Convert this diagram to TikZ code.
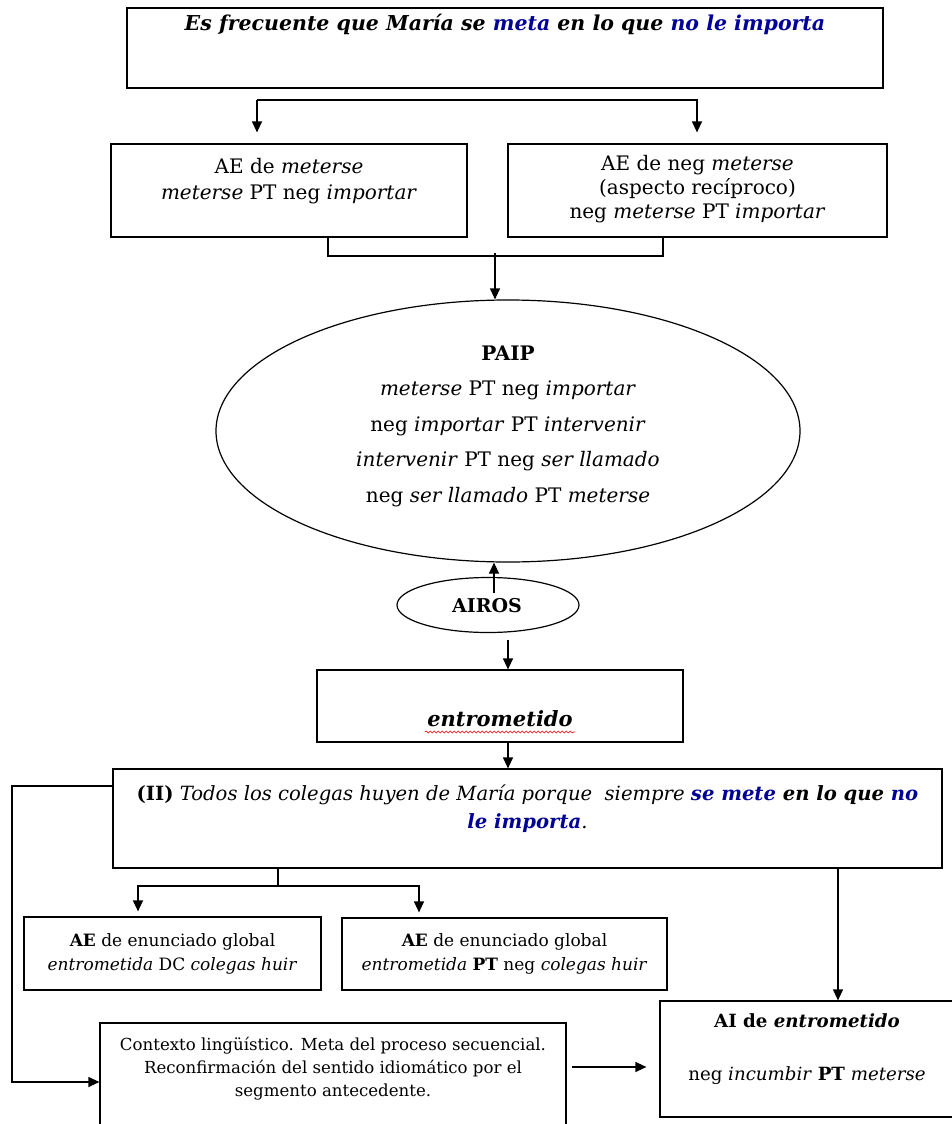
\documentclass[tikz,border=0pt]{standalone}
\usepackage{fontspec}
\setmainfont{DejaVu Serif}
\usetikzlibrary{arrows.meta,shapes.geometric,decorations.pathmorphing}
\definecolor{azulosc}{RGB}{0,0,150}
\newcommand{\az}[1]{\textcolor{azulosc}{#1}}

\begin{document}
\begin{tikzpicture}[x=1pt,y=-1pt,
    caja/.style={draw,line width=1.2pt,inner sep=0pt},
    txt/.style={inner sep=0pt,align=center},
    flecha/.style={line width=1.2pt,-{Triangle[length=11pt,width=10pt]}},
    linea/.style={line width=1.2pt}]

  \useasboundingbox (0,0) rectangle (952,1124);

  % cajas
  \node[caja,minimum width=756pt,minimum height=80pt] (ejemplo) at (505,48) {};
  \node[caja,minimum width=356pt,minimum height=93pt] (ae1) at (289,190.5) {};
  \node[caja,minimum width=379pt,minimum height=93pt] (ae2) at (697.5,190.5) {};
  \node[caja,ellipse,minimum width=584pt,minimum height=262pt] (paip) at (508,431) {};
  \node[caja,ellipse,minimum width=182pt,minimum height=55pt] (airos) at (488,605) {};
  \node[caja,minimum width=366pt,minimum height=72pt] (entro) at (500,706) {};
  \node[caja,minimum width=829pt,minimum height=99pt] (dos) at (527.5,818.5) {};
  \node[caja,minimum width=297pt,minimum height=73pt] (glob1) at (172.5,953.5) {};
  \node[caja,minimum width=325pt,minimum height=72pt] (glob2) at (504.5,954) {};
  \node[caja,minimum width=466pt,minimum height=107pt] (ctx) at (333,1076.5) {};
  \node[caja,minimum width=294pt,minimum height=116pt] (ai) at (807,1059) {};

  % textos
  \node[txt,anchor=base,font=\fontsize{20.5}{24}\selectfont] (ejemplo-t) at (505,31)
    {\textbf{\textit{Es frecuente que María se \az{meta} en lo que \az{no le importa}}}};
  \node[txt,font=\fontsize{20}{26}\selectfont] (ae1-t) at (289,181)
    {AE de \textit{meterse}\\ \textit{meterse} PT neg \textit{importar}};
  \node[txt,font=\fontsize{20}{24}\selectfont] (ae2-t) at (697.5,189.5)
    {AE de neg \textit{meterse}\\ (aspecto recíproco)\\ neg \textit{meterse} PT \textit{importar}};
  \node[txt,font=\fontsize{20}{35.5}\selectfont] (paip-t) at (508,426)
    {\textbf{PAIP}\\ \textit{meterse} PT neg \textit{importar}\\ neg \textit{importar} PT \textit{intervenir}\\
     \textit{intervenir} PT neg \textit{ser llamado}\\ neg \textit{ser llamado} PT \textit{meterse}};
  \node[txt,anchor=base,font=\fontsize{19}{24}\selectfont] (airos-t) at (487,612) {\textbf{AIROS}};
  \node[txt,anchor=base,font=\fontsize{21}{24}\selectfont] (entro-t) at (500,726) {\textbf{\textit{entrometido}}};
  \draw[red,line width=0.6pt,decorate,decoration={snake,amplitude=1pt,segment length=4pt}] (425,732) -- (575,732);
  \node[txt,font=\fontsize{19.6}{28}\selectfont] (dos-t) at (527.5,809)
    {\textbf{(II)} \textit{Todos los colegas huyen de María porque\ \ siempre} \textbf{\textit{\az{se mete} en lo que \az{no}}}\\
     \textbf{\textit{\az{le importa}}}\textit{.}};
  \node[txt,font=\fontsize{17}{24}\selectfont] (glob1-t) at (172.5,954)
    {\textbf{AE} de enunciado global\\ \textit{entrometida} DC \textit{colegas huir}};
  \node[txt,font=\fontsize{17}{24}\selectfont] (glob2-t) at (504.5,954)
    {\textbf{AE} de enunciado global\\ \textit{entrometida} \textbf{PT} neg \textit{colegas huir}};
  \node[txt,font=\fontsize{16.6}{23}\selectfont] (ctx-t) at (333,1069)
    {Contexto lingüístico. Meta del proceso secuencial.\\ Reconfirmación del sentido idiomático por el\\ segmento antecedente.};
  \node[txt,font=\fontsize{18.2}{53}\selectfont] (ai-t) at (807,1049)
    {\textbf{AI de \textit{entrometido}}\\ neg \textit{incumbir} \textbf{PT} \textit{meterse}};

  % conectores
  \coordinate (bl) at (257,100);
  \coordinate (br) at (697,100);
  \draw[flecha,shorten >=11pt] (bl) -- (bl |- ae1.north);
  \draw[flecha,shorten >=11pt] (bl) -| (br |- ae2.north);

  \coordinate (j1) at (328,256);
  \coordinate (j2) at (663,256);
  \coordinate (j3) at (495,253);
  \draw[linea] (j1 |- ae1.south) -- (j1) -- (j2) -- (j2 |- ae2.south);
  \draw[flecha] (j3) -- (j3 |- paip.north);

  \coordinate (a1) at (494,593);
  \coordinate (a2) at (508,640);
  \draw[flecha] (a1) -- (a1 |- paip.south);
  \draw[flecha] (a2) -- (a2 |- entro.north);
  \draw[flecha] (a2 |- entro.south) -- (a2 |- dos.north);

  \coordinate (c1) at (12,786);
  \coordinate (c2) at (12,1082);
  \draw[flecha] (c1 -| dos.west) -- (c1) -- (c2) -- (c2 -| ctx.west);

  \coordinate (b0) at (278,886);
  \coordinate (b1) at (138,886);
  \coordinate (b2) at (419,886);
  \draw[linea] (b0 |- dos.south) -- (b0);
  \draw[flecha,shorten >=5pt] (b0) -| (b1 |- glob1.north);
  \draw[flecha,shorten >=5pt] (b0) -| (b2 |- glob2.north);

  \coordinate (d0) at (838,940);
  \draw[flecha] (d0 |- dos.south) -- (d0 |- ai.north);

  \coordinate (e0) at (600,1067);
  \draw[flecha,shorten <=5pt,shorten >=13pt] (e0 -| ctx.east) -- (e0 -| ai.west);

\end{tikzpicture}
\end{document}
